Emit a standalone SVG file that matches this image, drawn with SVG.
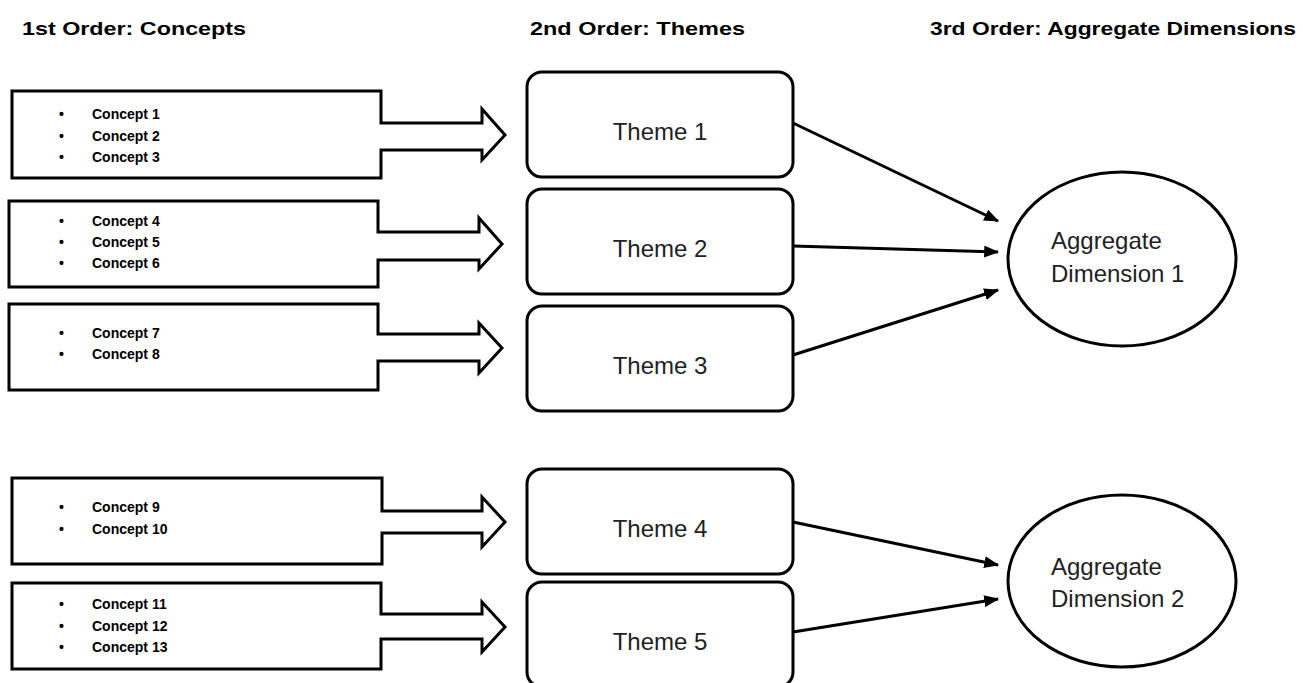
<svg xmlns="http://www.w3.org/2000/svg" width="1303" height="683" viewBox="0 0 1303 683">
<style>
.hdr{font-family:"Liberation Sans",Arial,sans-serif;font-weight:bold;font-size:19px;fill:#000}
.cbox{fill:#fff;stroke:#000;stroke-width:3;stroke-linejoin:miter}
.ct{font-family:"Liberation Sans",Arial,sans-serif;font-weight:bold;font-size:14px;fill:#000}
.theme{fill:#fff;stroke:#000;stroke-width:3}
.tt{font-family:"Liberation Sans",Arial,sans-serif;font-size:24px;fill:#222;text-anchor:middle}
.agg{fill:#fff;stroke:#000;stroke-width:3}
.at{font-family:"Liberation Sans",Arial,sans-serif;font-size:24px;fill:#222}
.conn{stroke:#000;stroke-width:3;fill:none;marker-end:url(#ah)}
</style>
<defs>
<marker id="ah" markerWidth="5" markerHeight="4" refX="4.6" refY="2" orient="auto" markerUnits="strokeWidth">
<path d="M0,0 L5,2 L0,4 Z" fill="#000"/>
</marker>
</defs>
<rect width="1303" height="683" fill="#fff"/>
<g id="headers">
<text class="hdr" x="22" y="35" textLength="224" lengthAdjust="spacingAndGlyphs">1st Order: Concepts</text>
<text class="hdr" x="530" y="35" textLength="215" lengthAdjust="spacingAndGlyphs">2nd Order: Themes</text>
<text class="hdr" x="930" y="35" textLength="366" lengthAdjust="spacingAndGlyphs">3rd Order: Aggregate Dimensions</text>
</g>
<g id="concepts1">
<path class="cbox" d="M12,91 H381 V123 H482 V109 L505,135 L482,160 V150 H381 V178 H12 Z"/>
<text class="ct" x="59" y="119">•</text><text class="ct" x="92" y="119">Concept 1</text>
<text class="ct" x="59" y="141">•</text><text class="ct" x="92" y="141">Concept 2</text>
<text class="ct" x="59" y="162">•</text><text class="ct" x="92" y="162">Concept 3</text>
</g>
<g id="concepts2">
<path class="cbox" d="M9,201 H378 V232 H479 V218 L502,244 L479,269 V260 H378 V287 H9 Z"/>
<text class="ct" x="59" y="226">•</text><text class="ct" x="92" y="226">Concept 4</text>
<text class="ct" x="59" y="247">•</text><text class="ct" x="92" y="247">Concept 5</text>
<text class="ct" x="59" y="268">•</text><text class="ct" x="92" y="268">Concept 6</text>
</g>
<g id="concepts3">
<path class="cbox" d="M9,304 H378 V334 H479 V323 L502,348 L479,373 V361 H378 V390 H9 Z"/>
<text class="ct" x="59" y="338">•</text><text class="ct" x="92" y="338">Concept 7</text>
<text class="ct" x="59" y="359">•</text><text class="ct" x="92" y="359">Concept 8</text>
</g>
<g id="concepts4">
<path class="cbox" d="M12,478 H382 V511 H482 V497 L505,522 L482,547 V533 H382 V564 H12 Z"/>
<text class="ct" x="59" y="512">•</text><text class="ct" x="92" y="512">Concept 9</text>
<text class="ct" x="59" y="534">•</text><text class="ct" x="92" y="534">Concept 10</text>
</g>
<g id="concepts5">
<path class="cbox" d="M12,583 H381 V614 H482 V602 L505,627 L482,652 V639 H381 V669 H12 Z"/>
<text class="ct" x="59" y="609">•</text><text class="ct" x="92" y="609">Concept 11</text>
<text class="ct" x="59" y="631">•</text><text class="ct" x="92" y="631">Concept 12</text>
<text class="ct" x="59" y="652">•</text><text class="ct" x="92" y="652">Concept 13</text>
</g>
<g id="theme1"><rect class="theme" x="527" y="72" width="266" height="105" rx="15"/><text class="tt" x="660" y="140">Theme 1</text></g>
<g id="theme2"><rect class="theme" x="527" y="189" width="266" height="105" rx="15"/><text class="tt" x="660" y="257">Theme 2</text></g>
<g id="theme3"><rect class="theme" x="527" y="306" width="266" height="105" rx="15"/><text class="tt" x="660" y="374">Theme 3</text></g>
<g id="theme4"><rect class="theme" x="527" y="469" width="266" height="105" rx="15"/><text class="tt" x="660" y="537">Theme 4</text></g>
<g id="theme5"><rect class="theme" x="527" y="582" width="266" height="105" rx="15"/><text class="tt" x="660" y="650">Theme 5</text></g>
<g id="agg1"><ellipse class="agg" cx="1122" cy="259" rx="114" ry="87"/><text class="at" x="1051" y="249">Aggregate</text><text class="at" x="1051" y="282">Dimension 1</text></g>
<g id="agg2"><ellipse class="agg" cx="1122" cy="581" rx="114" ry="86"/><text class="at" x="1051" y="575">Aggregate</text><text class="at" x="1051" y="607">Dimension 2</text></g>
<g id="connectors">
<line class="conn" x1="793" y1="123" x2="998" y2="221"/>
<line class="conn" x1="793" y1="246" x2="998" y2="252"/>
<line class="conn" x1="793" y1="355" x2="998" y2="290"/>
<line class="conn" x1="793" y1="522" x2="998" y2="565"/>
<line class="conn" x1="793" y1="632" x2="998" y2="599"/>
</g>
</svg>
